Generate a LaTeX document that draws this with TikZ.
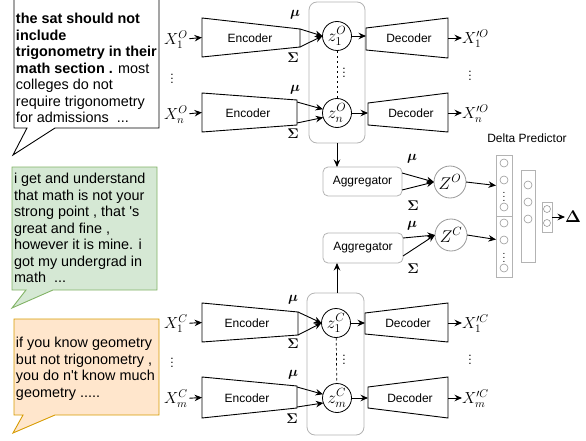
\documentclass[tikz,border=0pt]{standalone}
\usepackage{fontspec}
\usepackage{fix-cm}
\setmainfont{Liberation Sans}
\usetikzlibrary{arrows.meta}
\definecolor{boxgray}{HTML}{B3B3B3}
\definecolor{unitgray}{HTML}{999999}
\definecolor{greenfill}{HTML}{D5E8D4}
\definecolor{greenline}{HTML}{82B366}
\definecolor{orangefill}{HTML}{FFE6CC}
\definecolor{orangeline}{HTML}{D79B00}

\begin{document}
\begin{tikzpicture}[x=1pt,y=-1pt,
  every node/.style={inner sep=0pt, outer sep=0pt},
  arr/.style={-{Stealth[length=7.5pt,width=6.5pt,inset=2.5pt]}, line width=0.9pt},
  trap/.style={draw, line width=0.9pt, fill=white},
  lbl/.style={font=\fontsize{12}{14}\selectfont},
  mlbl/.style={font=\fontsize{16}{18}\selectfont},
  symb/.style={font=\fontsize{14}{16}\selectfont\boldmath},
  latent/.style={circle, draw, line width=0.8pt, fill=white, minimum size=29pt, font=\fontsize{17}{19}\selectfont},
  bigz/.style={circle, draw=unitgray, line width=0.8pt, minimum size=32pt, font=\fontsize{17}{19}\selectfont},
  grp/.style={draw=boxgray, rounded corners=8pt, line width=0.8pt},
  agg/.style={draw=boxgray, rounded corners=5pt, line width=0.8pt, fill=white, font=\fontsize{12}{14}\selectfont},
  layerbox/.style={draw=boxgray, line width=0.8pt},
  neuron/.style={circle, draw=unitgray, line width=0.6pt, minimum size=8pt},
  speech/.style={font=\fontsize{14.4}{16.5}\selectfont, align=left, anchor=north west},
  bubble/.style={line width=0.9pt},
]
\useasboundingbox (0,0) rectangle (586,441);
\clip (0,0) rectangle (586,441);

% ---------- speech bubbles ----------
\draw[bubble, fill=white] (159,-10) -- (159,128) -- (55,128) -- (13,155) -- (27,128) -- (14,128) -- (14,-10);
\node[speech] (post1) at (16,13.5) {\textbf{the sat should not}\\ \textbf{include}\\ \textbf{trigonometry in their}\\ \textbf{math section .} most\\ colleges do not\\ require trigonometry\\ for admissions\ \ ...};

\draw[bubble, draw=greenline, fill=greenfill] (12,167) -- (157,167) -- (157,290) -- (53,290) -- (12,308) -- (26,290) -- (12,290) -- cycle;
\node[speech] (post2) at (14,173.5) {i get and understand\\ that math is not your\\ strong point , that \textquotesingle s\\ great and fine ,\\ however it is mine. i\\ got my undergrad in\\ math\ \ ...};

\draw[bubble, draw=orangeline, fill=orangefill] (14,319) -- (159,319) -- (159,415) -- (55,415) -- (13,433) -- (23,415) -- (14,415) -- cycle;
\node[speech] (post3) at (16,337.5) {if you know geometry\\ but not trigonometry ,\\ you do n\textquotesingle t know much\\ geometry .....};

% ---------- latent groups ----------
\node[grp, minimum width=56pt, minimum height=141pt] (grpO) at (337,72.5) {};
\node[grp, minimum width=57pt, minimum height=142pt] (grpC) at (335.5,364) {};

% ---------- encoders ----------
\draw[trap] (202,18) -- (300,29) -- (300,47) -- (202,57) -- cycle;
\draw[trap] (202,93) -- (297,100) -- (297,125) -- (202,132) -- cycle;
\draw[trap] (202,303) -- (298,312) -- (298,335) -- (202,342) -- cycle;
\draw[trap] (202,377) -- (297,386) -- (297,408) -- (202,418) -- cycle;
\node[lbl] (enc1) at (250,38) {Encoder};
\node[lbl] (enc2) at (248,113) {Encoder};
\node[lbl] (enc3) at (247,323) {Encoder};
\node[lbl] (enc4) at (247,398) {Encoder};
\coordinate (enc1in) at (202,37.5);  \coordinate (enc1mu) at (300,29);  \coordinate (enc1sg) at (300,47);
\coordinate (enc2in) at (202,112.5); \coordinate (enc2mu) at (297,102); \coordinate (enc2sg) at (297,123);
\coordinate (enc3in) at (202,322.5); \coordinate (enc3mu) at (298,312); \coordinate (enc3sg) at (298,335);
\coordinate (enc4in) at (202,397.5); \coordinate (enc4mu) at (297,387); \coordinate (enc4sg) at (297,407);

% ---------- decoders ----------
\draw[trap] (366,28) -- (448,18) -- (448,58) -- (366,50) -- cycle;
\draw[trap] (368,103) -- (448,93) -- (448,132) -- (368,125) -- cycle;
\draw[trap] (365,313) -- (448,303) -- (448,342) -- (365,334) -- cycle;
\draw[trap] (368,387) -- (448,377) -- (448,418) -- (368,408) -- cycle;
\node[lbl] (dec1) at (409,38) {Decoder};
\node[lbl] (dec2) at (411,113) {Decoder};
\node[lbl] (dec3) at (408,323) {Decoder};
\node[lbl] (dec4) at (410,398) {Decoder};
\coordinate (dec1in) at (366,36);  \coordinate (dec1out) at (448,38);
\coordinate (dec2in) at (368,113); \coordinate (dec2out) at (448,113);
\coordinate (dec3in) at (365,323); \coordinate (dec3out) at (448,323);
\coordinate (dec4in) at (368,398); \coordinate (dec4out) at (448,398);

% ---------- inputs ----------
\node[mlbl, outer sep=1.5pt] (x1o) at (176,40) {$X_1^O$};
\node[mlbl, outer sep=1.5pt] (xno) at (176,115) {$X_n^O$};
\node[lbl] (xdotso) at (172,76) {$\vdots$};
\node[mlbl, outer sep=1.5pt] (x1c) at (176,324) {$X_1^C$};
\node[mlbl, outer sep=1.5pt] (xmc) at (176,399) {$X_m^C$};
\node[lbl] (xdotsc) at (172,360) {$\vdots$};
\draw[arr] (x1o) -- (enc1in);
\draw[arr] (xno) -- (enc2in);
\draw[arr] (x1c) -- (enc3in);
\draw[arr] (xmc) -- (enc4in);

% ---------- outputs ----------
\node[mlbl, anchor=west] (y1o) at (462,39) {$X_1^{\prime O}$};
\node[mlbl, anchor=west] (yno) at (462,114) {$X_n^{\prime O}$};
\node[lbl] (ydotso) at (470,73) {$\vdots$};
\node[mlbl, anchor=west] (y1c) at (462,324) {$X_1^{\prime C}$};
\node[mlbl, anchor=west] (ymc) at (462,399) {$X_m^{\prime C}$};
\node[lbl] (ydotsc) at (470,357) {$\vdots$};
\draw[arr] (dec1out) -- (dec1out -| y1o.west);
\draw[arr] (dec2out) -- (dec2out -| yno.west);
\draw[arr] (dec3out) -- (dec3out -| y1c.west);
\draw[arr] (dec4out) -- (dec4out -| ymc.west);

% ---------- latent codes ----------
\draw[line width=0.7pt, dash pattern=on 2.5pt off 2.5pt] (337,36) -- (337,113);
\draw[line width=0.7pt, dash pattern=on 2.5pt off 2.5pt] (336,323) -- (337,398);
\node[latent] (z1o) at (337,36) {$z_1^O$};
\node[latent] (zno) at (337,113) {$z_n^O$};
\node[latent] (z1c) at (336,323) {$z_1^C$};
\node[latent] (zmc) at (337,398) {$z_m^C$};
\node[lbl] (zdotso) at (344,70) {$\vdots$};
\node[lbl] (zdotsc) at (344,357) {$\vdots$};

\draw[arr] (enc1mu) -- (z1o.west);
\draw[arr] (enc1sg) -- (z1o.west);
\draw[arr] (enc2mu) -- (zno.165);
\draw[arr] (enc2sg) -- (zno.198);
\draw[arr] (enc3mu) -- (z1c.west);
\draw[arr] (enc3sg) -- (z1c.west);
\draw[arr] (enc4mu) -- (zmc.165);
\draw[arr] (enc4sg) -- (zmc.200);

\draw[arr] (z1o.east) -- (z1o.east -| dec1in);
\draw[arr] (zno.east) -- (zno.east -| dec2in);
\draw[arr] (z1c.east) -- (z1c.east -| dec3in);
\draw[arr] (zmc.east) -- (zmc.east -| dec4in);

\node[symb] (mu1) at (295,15) {$\mu$};
\node[symb] (sg1) at (293,58) {$\Sigma$};
\node[symb] (mu2) at (295,90) {$\mu$};
\node[symb] (sg2) at (293,134) {$\Sigma$};
\node[symb] (mu3) at (293,300) {$\mu$};
\node[symb] (sg3) at (293,344) {$\Sigma$};
\node[symb] (mu4) at (293,375) {$\mu$};
\node[symb] (sg4) at (292,419) {$\Sigma$};

% ---------- aggregators ----------
\node[agg, minimum width=79pt, minimum height=29pt] (agg1) at (362.5,181.5) {Aggregator};
\node[agg, minimum width=80pt, minimum height=30pt] (agg2) at (363,248) {Aggregator};
\draw[arr] (grpO.south) -- (grpO.south |- agg1.north);
\draw[arr] (grpC.north -| grpO.south) -- (grpO.south |- agg2.south);

\node[bigz] (ZO) at (450,182) {$Z^O$};
\node[bigz] (ZC) at (451,235) {$Z^C$};
\draw[arr] (agg1.east |- 0,173) -- (ZO.west);
\draw[arr] (agg1.east |- 0,190) -- (ZO.west);
\draw[arr] (agg2.east |- 0,238) -- (ZC.west);
\draw[arr] (agg2.east |- 0,256) -- (ZC.west);
\node[symb] (mu5) at (412,159) {$\mu$};
\node[symb] (sg5) at (413,206) {$\Sigma$};
\node[symb] (mu6) at (412,226) {$\mu$};
\node[symb] (sg6) at (413,269) {$\Sigma$};

% ---------- delta predictor ----------
\node[lbl] (dplabel) at (527,138) {Delta Predictor};
\node[layerbox, minimum width=16pt, minimum height=61pt] (c1a) at (504,185.5) {};
\node[layerbox, minimum width=16pt, minimum height=61pt] (c1b) at (504,246.5) {};
\node[layerbox, minimum width=14pt, minimum height=92pt] (c2) at (528,216) {};
\node[layerbox, minimum width=10pt, minimum height=30pt] (c3) at (547,217) {};
\foreach \yy [count=\i] in {163,180,207} \node[neuron] (na\i) at (504,\yy) {};
\foreach \yy [count=\i] in {223,240,268} \node[neuron] (nb\i) at (504,\yy) {};
\foreach \yy [count=\i] in {185,202,219} \node[neuron] (nc\i) at (528,\yy) {};
\foreach \yy [count=\i] in {209,223} \node[neuron, minimum size=7pt] (nd\i) at (547,\yy) {};
\node[font=\fontsize{10}{12}\selectfont] (c1adots) at (504,194) {$\vdots$};
\node[font=\fontsize{10}{12}\selectfont] (c1bdots) at (504,255) {$\vdots$};

\draw[arr] (ZO.east) -- (c1a.west);
\draw[arr] (ZC.east) -- ([yshift=7pt]c1b.west);
\node[font=\fontsize{17}{19}\selectfont\boldmath, anchor=west] (delta) at (565,217) {$\Delta$};
\draw[arr] (c3.east) -- (delta.west);
\end{tikzpicture}
\end{document}
